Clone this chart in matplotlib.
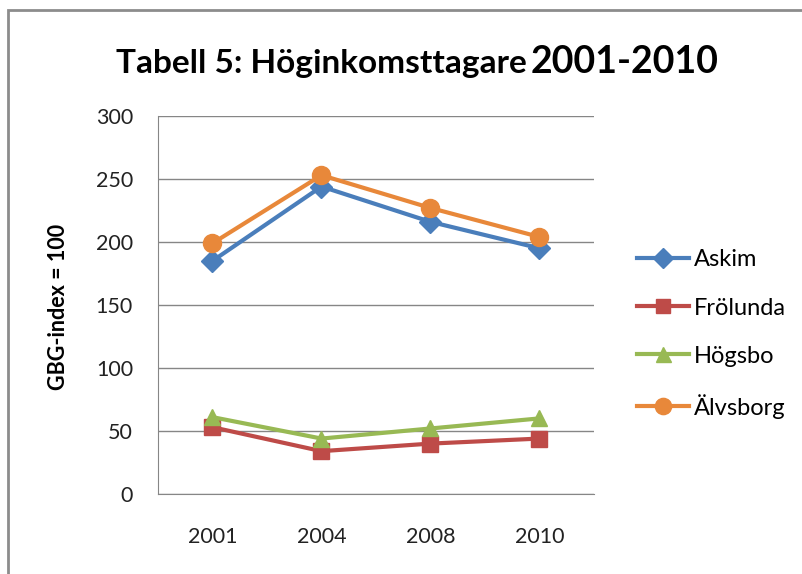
"""Tabell 5: Höginkomsttagare 2001-2010, GBG-index per stadsdel."""

import matplotlib

matplotlib.use("Agg")
import matplotlib.pyplot as plt
from matplotlib.patches import Rectangle

plt.rcParams["font.family"] = ["Lato", "DejaVu Sans"]

years = ["2001", "2004", "2008", "2010"]
askim = [185, 244, 216, 195]
frolunda = [53, 34, 40, 44]
hogsbo = [61, 44, 52, 60]
alvsborg = [199, 253, 227, 204]

series = [
    ("Askim", askim, "#4A7EBB", "D", 11),
    ("Frölunda", frolunda, "#BE4B48", "s", 11),
    ("Högsbo", hogsbo, "#98B954", "^", 12),
    ("Älvsborg", alvsborg, "#E8883A", "o", 13),
]

fig = plt.figure(figsize=(8.03, 5.74), dpi=100)
fig.patches.append(
    Rectangle((8 / 803, -0.05), 1.0, 1 - 10 / 574 + 0.05,
              transform=fig.transFigure, fill=False,
              edgecolor="#8c8c8c", linewidth=2)
)

ax = fig.add_axes([158 / 803, 1 - 494 / 574, 436 / 803, 378 / 574])
x = range(len(years))
for name, vals, color, marker, size in series:
    ax.plot(x, vals, color=color, linewidth=3, marker=marker,
            markersize=size, label=name, zorder=3)

ax.set_xlim(-0.5, 3.5)
ax.set_ylim(0, 300)
ax.set_yticks(range(0, 301, 50))
ax.set_xticks(list(x))
ax.set_xticklabels(years)
ax.grid(axis="y", color="#868686", linewidth=1, zorder=0)
for side in ("top", "right"):
    ax.spines[side].set_visible(False)
for side in ("left", "bottom"):
    ax.spines[side].set_color("#868686")
ax.tick_params(axis="y", length=0, pad=18, labelsize=15.5, labelcolor="#222222")
ax.tick_params(axis="x", length=0, pad=24, labelsize=15.5, labelcolor="#222222")

fig.text(59 / 803, 1 - 307 / 574, "GBG-index = 100", rotation=90,
         ha="center", va="center", fontsize=15.5, fontweight="bold")

split = 527 / 803
fig.text(split, 1 - 73 / 574, "Tabell 5: Höginkomsttagare", ha="right",
         va="baseline", fontsize=24, fontweight="bold")
fig.text(split + 4 / 803, 1 - 73 / 574, "2001-2010", ha="left",
         va="baseline", fontsize=27, fontweight="bold")

ax.legend(loc="center left", bbox_to_anchor=(616 / 803, 1 - 334 / 574),
          bbox_transform=fig.transFigure, frameon=False, fontsize=17,
          labelspacing=1.15, handlelength=2.2, handletextpad=0.2,
          markerscale=0.9)

fig.savefig("out.png", dpi=100, facecolor="white")
